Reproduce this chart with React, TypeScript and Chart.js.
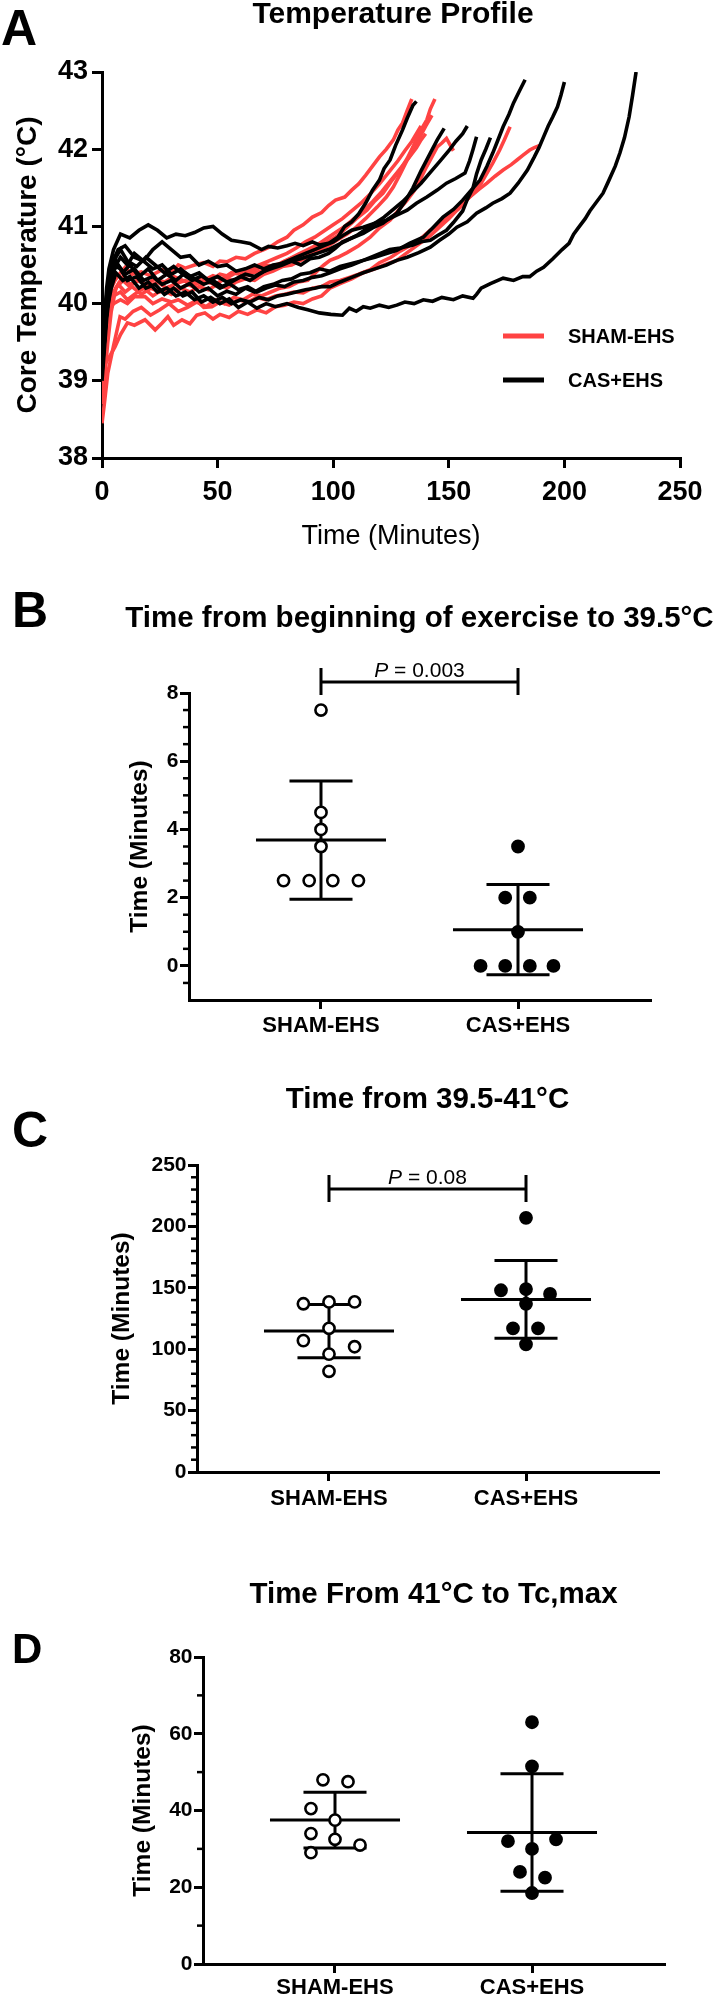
import React, { useEffect, useRef } from 'react';
import { Chart, registerables } from 'chart.js';

Chart.register(...registerables);

const FONT = '"Liberation Sans", Arial, Helvetica, sans-serif';
Chart.defaults.color = '#000';
Chart.defaults.font.family = FONT;

const RED = '#FF4343';
const BLACK = '#000000';

// ---------- shared labels ----------
const GROUPS = ['SHAM-EHS', 'CAS+EHS'];

// ---------- Panel A: temperature profiles (time, temp pairs) ----------
const TITLE_A = 'Temperature Profile';
const TIME_TICKS = [0, 50, 100, 150, 200, 250];
const TEMP_TICKS = [38, 39, 40, 41, 42, 43];

const R1 = [0,38.9, 1,39.3, 2.6,39.8, 4,40.2, 5.6,40.3, 8,40.4, 10,40.47, 13,40.38, 17,40.41, 21,40.36, 26,40.44, 30,40.4, 33,40.5, 36,40.46, 40,40.5, 44,40.53, 48,40.48, 51,40.55, 54,40.54, 58,40.6, 62,40.58, 66,40.65, 70,40.7, 73,40.74, 76,40.8, 80,40.86, 83,40.95, 87,41.02, 91,41.12, 95,41.18, 98,41.27, 101,41.34, 105,41.38, 108,41.47, 111,41.55, 114,41.66, 117,41.78, 120,41.9, 123,42.0, 126,42.12, 128,42.25, 130,42.34, 132,42.5, 134,42.65];
const R2 = [0,39.0, 1,39.4, 2,39.7, 4,40.0, 6,40.2, 9,40.3, 12,40.22, 15,40.3, 19,40.25, 23,40.32, 27,40.28, 31,40.35, 35,40.3, 39,40.26, 43,40.34, 47,40.3, 51,40.38, 55,40.35, 59,40.42, 63,40.4, 67,40.45, 71,40.5, 75,40.48, 79,40.55, 83,40.6, 87,40.62, 91,40.68, 95,40.75, 98.6,40.82, 102,40.88, 106,40.99, 110,41.1, 114.6,41.21, 118,41.33, 121.5,41.43, 125,41.58, 129,41.73, 132,41.88, 134.5,42.03, 137,42.2, 140.5,42.38, 142,42.52, 144,42.65];
const R3 = [0,39.2, 1,39.5, 3,39.9, 5,40.1, 8,40.15, 11,40.05, 14,40.12, 18,40.2, 22,40.1, 26,40.18, 30,40.12, 34,40.2, 38,40.15, 42,40.22, 46,40.18, 50,40.25, 54,40.2, 58,40.28, 62,40.32, 66,40.3, 70,40.38, 74,40.42, 78,40.48, 82,40.5, 86,40.56, 90,40.62, 94,40.68, 98,40.75, 101.6,40.82, 106,40.9, 110,40.99, 114,41.1, 119,41.25, 123,41.38, 126,41.51, 129,41.68, 132,41.86, 135,42.0, 137.5,42.16, 140,42.3, 142.7,42.44];
const R4 = [0,38.45, 1,38.7, 2.5,39.1, 4.9,39.44, 7.8,39.83, 10,39.8, 13.5,39.9, 17,39.95, 21,39.85, 25,39.92, 29,40.0, 33,39.9, 37,39.95, 41,40.02, 45,39.96, 49,40.05, 53,40.0, 57,40.08, 61,40.05, 65,40.12, 69,40.1, 73,40.15, 77,40.2, 81,40.22, 85,40.28, 89,40.3, 93,40.42, 96,40.5, 98.6,40.56, 102,40.6, 106,40.66, 111,40.75, 116,40.86, 120,40.98, 124.6,41.08, 128,41.2, 132,41.34, 135,41.46, 137.5,41.6, 140,41.75, 142,41.86, 145,42.03, 147,42.08, 149,42.14, 150.5,42.06, 152,41.98];
const R5 = [0,39.1, 1,39.2, 3,39.3, 5.6,39.44, 8,39.6, 11,39.75, 14,39.72, 18.6,39.79, 23,39.66, 26,39.75, 28.5,39.83, 31,39.72, 34.6,39.79, 38,39.74, 41,39.85, 44.5,39.88, 48,39.8, 51,39.86, 55,39.82, 59,39.9, 63,39.86, 67,39.92, 71,39.88, 75,39.96, 79,39.98, 83,40.02, 87,40.0, 91,40.06, 95,40.1, 98.6,40.2, 103,40.26, 108,40.32, 113,40.4, 118,40.45, 122,40.5, 127.5,40.56, 132,40.66, 137.5,40.78, 142,40.88, 146,40.99, 150,41.1, 153.5,41.21, 157,41.32, 160.5,41.43, 164,41.56, 166.5,41.69, 169,41.82, 172,41.99, 174,42.12, 176.5,42.29];
const R6 = [0,39.5, 1,39.7, 3,39.9, 5,40.0, 8,40.05, 11,40.0, 14,40.09, 18.6,40.09, 22,40.0, 26,40.06, 30,40.02, 33,40.05, 37,39.98, 41,40.04, 44,39.95, 47.5,39.96, 51,40.02, 55,39.98, 59,40.05, 63,40.02, 67,40.08, 71,40.05, 75,40.1, 79,40.12, 83,40.15, 87,40.14, 91,40.2, 95,40.22, 98.6,40.28, 103,40.3, 107,40.34, 111,40.38, 116,40.44, 120,40.53, 125,40.6, 129,40.68, 132,40.73, 137,40.82, 142,40.95, 146,41.02, 149,41.12, 154,41.22, 159,41.38, 163,41.48, 166.5,41.56, 170,41.65, 173.5,41.73, 177,41.8, 179.5,41.86, 182,41.92, 185,41.99, 187,42.02, 189.4,42.05];
const R7 = [0,38.7, 1,39.0, 2.5,39.5, 4,39.9, 6,40.2, 9,40.35, 12,40.25, 16,40.3, 20,40.22, 24,40.28, 28,40.2, 32,40.26, 36,40.3, 40,40.24, 44,40.3, 48,40.36, 52,40.32, 56,40.4, 60,40.38, 64,40.45, 68,40.5, 72,40.55, 76,40.6, 80,40.65, 84,40.72, 88,40.8, 92,40.86, 96,40.94, 100,41.02, 104,41.1, 108,41.2, 112,41.3, 116,41.42, 120,41.55, 124,41.7, 128,41.85, 131,41.98, 134,42.1, 136,42.2, 138,42.3];
const R8 = [0,39.3, 1,39.6, 2.5,39.9, 4,40.1, 7,40.25, 10,40.15, 13,40.22, 17,40.12, 21,40.2, 25,40.15, 29,40.22, 33,40.18, 37,40.25, 41,40.2, 45,40.28, 49,40.25, 53,40.32, 57,40.3, 61,40.36, 65,40.4, 69,40.42, 73,40.48, 77,40.52, 81,40.58, 85,40.64, 89,40.7, 93,40.76, 97,40.84, 101,40.92, 105,41.0, 109,41.1, 113,41.2, 117,41.32, 121,41.45, 125,41.6, 129,41.75, 133,41.9, 136,42.02, 138,42.12, 140,42.2];

const K1 = [0,39.4, 1,39.8, 2,40.2, 3,40.45, 5,40.7, 8,40.9, 12,40.85, 16,40.95, 20,41.02, 24,40.95, 28,40.85, 32,40.9, 36,40.88, 40,40.92, 44,40.98, 48,41.0, 52,40.9, 56,40.82, 60,40.8, 64,40.78, 69,40.7, 72,40.74, 76,40.72, 80,40.75, 83.5,40.78, 87,40.75, 91,40.8, 94,40.76, 98,40.78, 102,40.86, 105,41.0, 108,41.06, 111,41.16, 114,41.3, 117,41.47, 120,41.6, 122,41.75, 124.6,41.86, 127,42.05, 130,42.25, 132,42.4, 134.5,42.57, 136,42.62];
const K2 = [0,39.2, 1,39.6, 2,40.0, 4,40.5, 7,40.7, 10,40.75, 14,40.6, 18,40.55, 22,40.7, 26,40.8, 30,40.7, 34,40.6, 38,40.62, 42,40.5, 46,40.55, 50,40.48, 54,40.5, 58,40.42, 62,40.45, 66,40.5, 70,40.45, 74,40.5, 78,40.52, 82,40.55, 86,40.5, 90,40.58, 94,40.6, 98,40.65, 101,40.72, 104,40.8, 108,40.85, 113,40.91, 117,40.98, 121.5,41.04, 124,41.1, 127.5,41.17, 131,41.32, 134.5,41.5, 138,41.72, 142,41.95, 145,42.12, 148,42.27];
const K3 = [0,39.1, 1,39.5, 2,39.9, 4,40.3, 6,40.55, 9,40.4, 12,40.5, 16,40.35, 20,40.45, 24,40.3, 28,40.38, 32,40.3, 36,40.4, 40,40.32, 44,40.25, 48,40.3, 52,40.22, 56,40.28, 60,40.35, 64,40.3, 68,40.38, 72,40.45, 76,40.5, 80,40.55, 84,40.6, 88,40.65, 92,40.7, 96,40.75, 100,40.8, 104,40.88, 108,40.95, 113,40.99, 118,41.04, 123,41.08, 127,41.14, 132,41.21, 136,41.3, 140.5,41.38, 145,41.47, 149,41.56, 153,41.62, 157,41.69, 159,41.85, 160.5,42.0, 162,42.16];
const K4 = [0,39.15, 1,39.6, 2.5,40.0, 4,40.35, 6,40.6, 8,40.7, 11,40.55, 15,40.48, 19,40.6, 23,40.5, 27,40.4, 31,40.48, 35,40.38, 39,40.3, 43,40.36, 47,40.28, 51,40.2, 55,40.26, 59,40.18, 63,40.22, 67,40.15, 71,40.2, 75,40.24, 79,40.22, 83,40.28, 87,40.3, 91,40.34, 95,40.36, 98.6,40.4, 103,40.45, 108,40.5, 113,40.56, 118,40.62, 124.5,40.7, 129,40.72, 134.5,40.76, 138,40.8, 142,40.82, 145,40.88, 149,40.95, 152,41.05, 156,41.2, 158,41.35, 160.5,41.5, 162,41.68, 164,41.86, 166,42.0, 168,42.15];
const K5 = [0,39.3, 1,39.7, 2,40.1, 4,40.4, 7,40.5, 10,40.38, 14,40.45, 18,40.3, 22,40.35, 26,40.25, 30,40.3, 34,40.2, 38,40.26, 42,40.15, 46,40.2, 50,40.1, 54,40.16, 58,40.12, 62,40.2, 66,40.15, 70,40.22, 74,40.25, 78,40.3, 82,40.32, 86,40.38, 90,40.4, 94,40.45, 98.6,40.42, 103,40.48, 108,40.52, 113,40.56, 118,40.6, 122,40.64, 127.5,40.69, 133,40.78, 139,40.86, 143,40.98, 147.5,41.12, 152,41.22, 156,41.34, 160,41.48, 163.5,41.6, 166.5,41.78, 169,41.95, 171,42.1, 173.5,42.29, 176,42.45, 178,42.6, 180.5,42.75, 183,42.9];
const K6 = [0,39.2, 1,39.5, 2,39.9, 4,40.2, 6,40.4, 9,40.3, 12,40.35, 16,40.2, 20,40.28, 24,40.15, 28,40.2, 32,40.1, 36,40.15, 40,40.05, 44,40.1, 48,40.02, 52,40.08, 56,40.0, 60,40.05, 64,40.02, 68,40.08, 72,40.05, 76,40.1, 80,40.12, 84,40.15, 88,40.18, 92,40.2, 95,40.22, 98.6,40.22, 103,40.28, 108,40.34, 113,40.4, 118,40.45, 123,40.5, 127.5,40.56, 132,40.6, 137,40.66, 142,40.73, 146,40.82, 150,40.9, 153.5,40.99, 158,41.06, 162,41.17, 166,41.24, 169,41.3, 173,41.36, 176.5,41.43, 180,41.56, 184,41.73, 187,41.9, 189,42.02, 191,42.16, 193,42.3, 195,42.42, 197,42.55, 198.5,42.7, 200,42.87];
const K7 = [0,39.1, 1,39.5, 2,39.9, 3,40.3, 5,40.5, 8,40.45, 11,40.3, 15,40.35, 19,40.2, 23,40.25, 27,40.12, 31,40.2, 35,40.1, 39,40.15, 43,40.02, 47,40.08, 51,40.0, 55,40.06, 59,39.95, 63,40.02, 67,39.94, 71,40.0, 75,39.96, 80,40.0, 85,39.95, 89,39.92, 94,39.88, 99,39.86, 104,39.85, 107,39.94, 110,39.9, 113,39.96, 116,39.94, 120,39.98, 124,39.95, 127.5,39.98, 131,40.02, 135,40.0, 139,40.05, 143,40.03, 147,40.08, 152,40.05, 156,40.1, 160.5,40.07, 162,40.12, 164,40.2, 168,40.26, 173.5,40.33, 178,40.3, 182,40.35, 185,40.35, 188,40.42, 191,40.47, 195,40.58, 199,40.7, 202,40.78, 204,40.9, 206,40.98, 209,41.1, 211,41.2, 213,41.28, 216.7,41.43, 219,41.58, 222,41.78, 224,41.95, 226,42.15, 228,42.42, 229.5,42.7, 231,43.0];
const K8 = [0,39.0, 1,39.4, 2,39.8, 3.5,40.2, 5,40.45, 8,40.6, 11,40.5, 14,40.65, 18,40.55, 22,40.45, 26,40.5, 30,40.38, 34,40.45, 38,40.35, 42,40.4, 46,40.3, 50,40.35, 54,40.28, 58,40.32, 62,40.38, 66,40.35, 70,40.42, 74,40.46, 78,40.5, 82,40.55, 86,40.58, 90,40.62, 94,40.66, 98,40.7, 102,40.76, 106,40.82, 110,40.88, 114,40.96, 118,41.04, 122,41.12, 126,41.22, 130,41.32, 134,41.44, 138,41.56, 142,41.7, 146,41.84, 150,41.98, 153,42.1, 156,42.2, 158,42.3];

const SHAM_TRACES = [R1, R2, R3, R4, R5, R6, R7, R8];
const CAS_TRACES = [K1, K2, K3, K4, K5, K6, K7, K8];

// ---------- Panel B ----------
const B_SHAM = [7.5, 4.5, 4.0, 3.5, 2.5, 2.5, 2.5, 2.5];
const B_SHAM_JITTER = [0, 0, 0, 0, -0.19, -0.06, 0.06, 0.19];
const B_CAS = [3.5, 2.0, 2.0, 1.0, 0, 0, 0, 0];
const B_CAS_JITTER = [0, -0.065, 0.06, 0, -0.19, -0.065, 0.06, 0.18];
const B_TICKS = [0, 2, 4, 6, 8];
const B_MINOR = [-0.5, 0.5, 1, 1.5, 2.5, 3, 3.5, 4.5, 5, 5.5, 6.5, 7, 7.5];

// ---------- Panel C ----------
const C_SHAM = [137, 138.5, 138.5, 117, 107, 102, 96, 82];
const C_SHAM_JITTER = [-0.13, 0, 0.13, 0, -0.13, 0.13, 0, 0];
const C_CAS = [207, 148, 149, 145, 137, 117, 117, 104];
const C_CAS_JITTER = [0, -0.127, 0, 0.122, 0, -0.066, 0.061, 0];
const C_TICKS = [0, 50, 100, 150, 200, 250];
const C_MINOR = [10, 20, 30, 40, 60, 70, 80, 90, 110, 120, 130, 140, 160, 170, 180, 190, 210, 220, 230, 240];

// ---------- Panel D ----------
const D_SHAM = [48, 47.5, 40.5, 37.5, 34, 32.5, 31, 29];
const D_SHAM_JITTER = [-0.061, 0.066, -0.122, 0, -0.122, 0, 0.127, -0.122];
const D_CAS = [63, 51.5, 32, 32.5, 30, 24, 22.5, 18.5];
const D_CAS_JITTER = [0, 0, -0.122, 0.122, 0, -0.061, 0.066, 0];
const D_TICKS = [0, 20, 40, 60, 80];
const D_MINOR = [10, 30, 50, 70];

const Y_TITLE = 'Time (Minutes)';

type Pt = { x: number; y: number };
function pairs(flat: number[]): Pt[] {
  const out: Pt[] = [];
  for (let i = 0; i + 1 < flat.length; i += 2) out.push({ x: flat[i], y: flat[i + 1] });
  return out;
}
const mean = (a: number[]) => a.reduce((s, v) => s + v, 0) / a.length;
const sd = (a: number[]) => {
  const m = mean(a);
  return Math.sqrt(a.reduce((s, v) => s + (v - m) * (v - m), 0) / (a.length - 1));
};

function axisGrid(len: number) {
  return { display: true, drawOnChartArea: false, drawTicks: true, tickLength: len, tickWidth: 3, tickColor: '#000', lineWidth: 3, color: '#000' };
}
const axisBorder = { display: true, width: 3, color: '#000' };

function buildA(canvas: HTMLCanvasElement) {
  const datasets: any[] = [];
  CAS_TRACES.forEach((tr) =>
    datasets.push({ data: pairs(tr), borderColor: BLACK, borderWidth: 3.6, pointRadius: 0, tension: 0, fill: false })
  );
  SHAM_TRACES.forEach((tr) =>
    datasets.push({ data: pairs(tr), borderColor: RED, borderWidth: 3.6, pointRadius: 0, tension: 0, fill: false })
  );
  const decor = {
    id: 'decorA',
    afterDraw(chart: any) {
      const { ctx, chartArea } = chart;
      ctx.save();
      ctx.fillStyle = '#000';
      ctx.textBaseline = 'alphabetic';
      ctx.textAlign = 'left';
      ctx.font = `bold 50px ${FONT}`;
      ctx.fillText('A', 1, 45);
      ctx.textAlign = 'center';
      ctx.font = `bold 30px ${FONT}`;
      ctx.fillText(TITLE_A, (chartArea.left + chartArea.right) / 2 + 2, 23);
      const items = [
        { label: GROUPS[0], color: RED, y: 336 },
        { label: GROUPS[1], color: BLACK, y: 380 },
      ];
      ctx.font = `bold 20px ${FONT}`;
      ctx.textAlign = 'left';
      ctx.textBaseline = 'middle';
      ctx.lineWidth = 5;
      items.forEach((it) => {
        ctx.strokeStyle = it.color;
        ctx.beginPath();
        ctx.moveTo(503, it.y);
        ctx.lineTo(544, it.y);
        ctx.stroke();
        ctx.fillStyle = '#000';
        ctx.fillText(it.label, 568, it.y + 1);
      });
      ctx.restore();
    },
  };
  return new Chart(canvas, {
    type: 'line',
    data: { datasets },
    options: {
      animation: false,
      responsive: false,
      events: [],
      layout: { padding: { left: 0, top: 72, right: 35, bottom: 0 } },
      plugins: { legend: { display: false }, tooltip: { enabled: false } },
      scales: {
        x: {
          type: 'linear',
          min: 0,
          max: 250,
          afterBuildTicks: (s: any) => { s.ticks = TIME_TICKS.map((v) => ({ value: v })); },
          afterFit: (s: any) => { s.height = 102; s.paddingLeft = 0; s.paddingRight = 0; },
          grid: axisGrid(10),
          border: axisBorder,
          ticks: { font: { family: FONT, size: 27, weight: 'bold' }, color: '#000', padding: 8, maxRotation: 0, autoSkip: false },
          title: { display: true, text: 'Time (Minutes)', font: { family: FONT, size: 27, weight: 'normal' }, color: '#000', padding: { top: 0, bottom: 7 } },
        },
        y: {
          type: 'linear',
          min: 38,
          max: 43,
          afterBuildTicks: (s: any) => { s.ticks = TEMP_TICKS.map((v) => ({ value: v })); },
          afterFit: (s: any) => { s.width = 102; s.paddingTop = 0; s.paddingBottom = 0; },
          grid: axisGrid(10),
          border: axisBorder,
          ticks: { font: { family: FONT, size: 27, weight: 'bold' }, color: '#000', padding: 4, autoSkip: false },
          title: { display: true, text: 'Core Temperature (°C)', font: { family: FONT, size: 28, weight: 'bold' }, color: '#000', padding: { top: 11, bottom: 0 } },
        },
      },
    } as any,
    plugins: [decor],
  });
}

interface DotCfg {
  letter: string;
  letterSize: number;
  letterBaseline: number;
  title: string;
  titleBaseline: number;
  height: number;
  padTop: number;
  padRight: number;
  yAxisWidth: number;
  xAxisHeight: number;
  yMin: number;
  yMax: number;
  yTicks: number[];
  yMinor: number[];
  yTitlePad: number;
  xLabelPad: number;
  sham: number[];
  shamJitter: number[];
  cas: number[];
  casJitter: number[];
  bracket?: { y: number; text: string };
}

const MEAN_HALF = 0.33;
const CAP_HALF = 0.16;

function buildDot(canvas: HTMLCanvasElement, cfg: DotCfg) {
  const groups = [
    { vals: cfg.sham, jit: cfg.shamJitter, open: true, gx: 1 },
    { vals: cfg.cas, jit: cfg.casJitter, open: false, gx: 2 },
  ];
  const datasets: any[] = [];
  groups.forEach((g) => {
    const m = mean(g.vals);
    const s = sd(g.vals);
    datasets.push({
      data: g.vals.map((v, i) => ({ x: g.gx + g.jit[i], y: v })),
      showLine: false,
      pointRadius: 5.6,
      pointBorderWidth: 2.6,
      pointBackgroundColor: g.open ? '#fff' : '#000',
      pointBorderColor: '#000',
      order: 0,
    });
    const seg = (a: Pt, b: Pt) => ({
      data: [a, b],
      showLine: true,
      borderColor: '#000',
      borderWidth: 3,
      pointRadius: 0,
      order: 1,
    });
    datasets.push(seg({ x: g.gx - MEAN_HALF, y: m }, { x: g.gx + MEAN_HALF, y: m }));
    datasets.push(seg({ x: g.gx, y: m - s }, { x: g.gx, y: m + s }));
    datasets.push(seg({ x: g.gx - CAP_HALF, y: m + s }, { x: g.gx + CAP_HALF, y: m + s }));
    datasets.push(seg({ x: g.gx - CAP_HALF, y: m - s }, { x: g.gx + CAP_HALF, y: m - s }));
  });

  const decor = {
    id: 'decor' + cfg.letter,
    afterDraw(chart: any) {
      const { ctx, chartArea, scales } = chart;
      ctx.save();
      ctx.fillStyle = '#000';
      ctx.textBaseline = 'alphabetic';
      ctx.textAlign = 'left';
      ctx.font = `bold ${cfg.letterSize}px ${FONT}`;
      ctx.fillText(cfg.letter, 12, cfg.letterBaseline);
      ctx.textAlign = 'center';
      ctx.font = `bold 29.5px ${FONT}`;
      ctx.fillText(cfg.title, (chartArea.left + chartArea.right) / 2, cfg.titleBaseline);
      // minor ticks
      ctx.strokeStyle = '#000';
      ctx.lineWidth = 2.5;
      cfg.yMinor.forEach((v) => {
        const py = scales.y.getPixelForValue(v);
        ctx.beginPath();
        ctx.moveTo(chartArea.left - 6, py);
        ctx.lineTo(chartArea.left, py);
        ctx.stroke();
      });
      if (cfg.bracket) {
        const x1 = scales.x.getPixelForValue(1);
        const x2 = scales.x.getPixelForValue(2);
        const by = scales.y.getPixelForValue(cfg.bracket.y);
        ctx.lineWidth = 3;
        ctx.beginPath();
        ctx.moveTo(x1, by);
        ctx.lineTo(x2, by);
        ctx.moveTo(x1, by - 14);
        ctx.lineTo(x1, by + 13);
        ctx.moveTo(x2, by - 14);
        ctx.lineTo(x2, by + 13);
        ctx.stroke();
        const italic = `italic 21px ${FONT}`;
        const normal = `21px ${FONT}`;
        ctx.font = italic;
        const wP = ctx.measureText('P').width;
        ctx.font = normal;
        const wRest = ctx.measureText(cfg.bracket.text).width;
        const cx = (x1 + x2) / 2;
        const start = cx - (wP + wRest) / 2;
        ctx.textAlign = 'left';
        ctx.font = italic;
        ctx.fillText('P', start, by - 5);
        ctx.font = normal;
        ctx.fillText(cfg.bracket.text, start + wP, by - 5);
      }
      ctx.restore();
    },
  };

  return new Chart(canvas, {
    type: 'scatter',
    data: { datasets },
    options: {
      animation: false,
      responsive: false,
      events: [],
      layout: { padding: { left: 0, top: cfg.padTop, right: cfg.padRight, bottom: 0 } },
      plugins: { legend: { display: false }, tooltip: { enabled: false } },
      scales: {
        x: {
          type: 'linear',
          min: 0.33,
          max: 2.67,
          afterBuildTicks: (s: any) => { s.ticks = [{ value: 1 }, { value: 2 }]; },
          afterFit: (s: any) => { s.height = cfg.xAxisHeight; s.paddingLeft = 0; s.paddingRight = 0; },
          grid: axisGrid(9),
          border: axisBorder,
          ticks: {
            font: { family: FONT, size: 22, weight: 'bold' },
            color: '#000',
            padding: cfg.xLabelPad,
            maxRotation: 0,
            autoSkip: false,
            callback: (v: any) => GROUPS[Math.round(Number(v)) - 1] ?? '',
          },
        },
        y: {
          type: 'linear',
          min: cfg.yMin,
          max: cfg.yMax,
          afterBuildTicks: (s: any) => { s.ticks = cfg.yTicks.map((v) => ({ value: v })); },
          afterFit: (s: any) => { s.width = cfg.yAxisWidth; s.paddingTop = 0; s.paddingBottom = 0; },
          grid: axisGrid(9),
          border: axisBorder,
          ticks: { font: { family: FONT, size: 21, weight: 'bold' }, color: '#000', padding: 1.5, autoSkip: false },
          title: { display: true, text: Y_TITLE, font: { family: FONT, size: 24.5, weight: 'bold' }, color: '#000', padding: { top: cfg.yTitlePad, bottom: 0 } },
        },
      },
    } as any,
    plugins: [decor],
  });
}

const CFG_B: DotCfg = {
  letter: 'B', letterSize: 50, letterBaseline: 47,
  title: 'Time from beginning of exercise to 39.5°C', titleBaseline: 47,
  height: 470, padTop: 113, padRight: 65, yAxisWidth: 189, xAxisHeight: 50,
  yMin: -1, yMax: 8, yTicks: B_TICKS, yMinor: B_MINOR, yTitlePad: 126, xLabelPad: 3.3,
  sham: B_SHAM, shamJitter: B_SHAM_JITTER, cas: B_CAS, casJitter: B_CAS_JITTER,
  bracket: { y: 8.32, text: ' = 0.003' },
};
const CFG_C: DotCfg = {
  letter: 'C', letterSize: 50, letterBaseline: 97,
  title: 'Time from 39.5-41°C', titleBaseline: 58,
  height: 480, padTop: 115, padRight: 57, yAxisWidth: 197, xAxisHeight: 58,
  yMin: 0, yMax: 250, yTicks: C_TICKS, yMinor: C_MINOR, yTitlePad: 108, xLabelPad: 4.8,
  sham: C_SHAM, shamJitter: C_SHAM_JITTER, cas: C_CAS, casJitter: C_CAS_JITTER,
  bracket: { y: 230.5, text: ' = 0.08' },
};
const CFG_D: DotCfg = {
  letter: 'D', letterSize: 42, letterBaseline: 133,
  title: 'Time From 41°C to Tc,max', titleBaseline: 73,
  height: 469, padTop: 127, padRight: 51, yAxisWidth: 203, xAxisHeight: 35,
  yMin: 0, yMax: 80, yTicks: D_TICKS, yMinor: D_MINOR, yTitlePad: 129, xLabelPad: 1.5,
  sham: D_SHAM, shamJitter: D_SHAM_JITTER, cas: D_CAS, casJitter: D_CAS_JITTER,
};

function ChartCanvas({ build, top, height }: { build: (c: HTMLCanvasElement) => Chart; top: number; height: number }) {
  const ref = useRef<HTMLCanvasElement>(null);
  useEffect(() => {
    const chart = build(ref.current as HTMLCanvasElement);
    return () => chart.destroy();
  }, []);
  return (
    <canvas
      ref={ref}
      width={715}
      height={height}
      style={{ position: 'absolute', left: 0, top, width: 715, height, display: 'block' }}
    />
  );
}

export default function App() {
  return (
    <div style={{ position: 'absolute', left: 0, top: 0, width: 715, height: 1999, background: '#fff', overflow: 'hidden' }}>
      <ChartCanvas build={buildA} top={0} height={560} />
      <ChartCanvas build={(c) => buildDot(c, CFG_B)} top={580} height={CFG_B.height} />
      <ChartCanvas build={(c) => buildDot(c, CFG_C)} top={1050} height={CFG_C.height} />
      <ChartCanvas build={(c) => buildDot(c, CFG_D)} top={1530} height={CFG_D.height} />
    </div>
  );
}
